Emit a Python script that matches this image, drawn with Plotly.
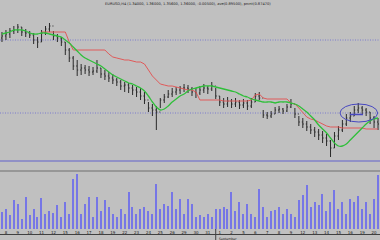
import plotly.graph_objects as go

# ---------------- data ----------------
high = [1.368,1.370,1.372,1.374,1.376,1.373,1.371,1.369,1.367,1.363,
        1.370,1.374,1.377,1.369,1.366,1.363,1.358,1.352,1.344,1.340,
        1.336,1.335,1.334,1.333,1.340,1.332,1.330,1.328,1.326,1.322,
        1.320,1.318,1.317,1.315,1.313,1.312,1.308,1.298,1.296,1.294,
        1.302,1.306,1.310,1.312,1.313,1.314,1.316,1.315,1.313,1.312,
        1.314,1.316,1.314,1.318,1.312,1.304,1.302,1.303,1.301,1.302,
        1.300,1.301,1.300,1.302,1.307,1.308,1.290,1.288,1.289,1.293,
        1.294,1.292,1.296,1.301,1.292,1.284,1.282,1.279,1.276,1.273,
        1.271,1.269,1.266,1.260,1.268,1.274,1.280,1.286,1.288,1.294,
        1.297,1.294,1.292,1.288,1.284,1.282]
low = [1.358,1.360,1.362,1.366,1.367,1.364,1.363,1.362,1.356,1.352,
       1.358,1.365,1.368,1.360,1.358,1.354,1.345,1.338,1.330,1.324,
       1.325,1.326,1.324,1.325,1.327,1.322,1.320,1.318,1.316,1.314,
       1.310,1.308,1.307,1.305,1.303,1.300,1.296,1.288,1.284,1.270,
       1.292,1.297,1.302,1.303,1.305,1.306,1.308,1.307,1.304,1.302,
       1.305,1.307,1.306,1.309,1.301,1.294,1.292,1.293,1.292,1.293,
       1.291,1.292,1.290,1.292,1.298,1.300,1.282,1.281,1.282,1.286,
       1.287,1.286,1.288,1.292,1.282,1.274,1.272,1.269,1.266,1.263,
       1.260,1.257,1.254,1.243,1.252,1.260,1.268,1.274,1.278,1.284,
       1.287,1.286,1.284,1.276,1.272,1.270]
close = [1.364,1.366,1.369,1.370,1.373,1.368,1.367,1.365,1.360,1.358,
         1.367,1.371,1.374,1.364,1.362,1.358,1.350,1.342,1.334,1.330,
         1.332,1.330,1.328,1.329,1.332,1.326,1.324,1.322,1.320,1.318,
         1.314,1.315,1.312,1.310,1.308,1.304,1.300,1.292,1.290,1.288,
         1.300,1.303,1.306,1.308,1.310,1.312,1.312,1.311,1.308,1.307,
         1.310,1.312,1.311,1.314,1.304,1.298,1.296,1.299,1.296,1.298,
         1.295,1.297,1.294,1.298,1.304,1.302,1.285,1.284,1.286,1.290,
         1.291,1.289,1.293,1.296,1.286,1.278,1.276,1.273,1.270,1.268,
         1.265,1.262,1.259,1.252,1.264,1.270,1.276,1.282,1.284,1.290,
         1.292,1.290,1.288,1.282,1.278,1.276]
first_open = 1.362

ma_green = [1.366,1.367,1.368,1.370,1.370,1.370,1.369,1.367,1.366,1.366,
            1.367,1.367,1.366,1.365,1.364,1.363,1.360,1.357,1.353,1.349,
            1.345,1.342,1.340,1.338,1.336,1.334,1.331,1.328,1.325,1.323,
            1.321,1.319,1.317,1.316,1.314,1.312,1.309,1.304,1.298,1.293,
            1.290,1.291,1.294,1.298,1.301,1.304,1.306,1.309,1.311,1.312,
            1.313,1.314,1.314,1.314,1.313,1.312,1.311,1.310,1.309,1.308,
            1.306,1.304,1.303,1.301,1.300,1.299,1.298,1.298,1.298,1.297,
            1.298,1.298,1.298,1.297,1.296,1.294,1.291,1.288,1.284,1.280,
            1.275,1.271,1.267,1.262,1.257,1.254,1.254,1.256,1.260,1.264,
            1.268,1.272,1.276,1.279,1.281,1.282]

stop_red = [None]*10 + [1.368]*7 + [1.358] + [1.350]*9 + [1.346] + \
           [1.343,1.342,1.341,1.340,1.340,1.339,1.338,1.338] + \
           [1.336,1.330,1.324,1.320] + \
           [1.316,1.315,1.314,1.314,1.313,1.312,1.311,1.310,1.310,1.308] + \
           [1.300]*6 + [1.299]*7 + [1.300,1.305,1.306,1.302] + [1.301]*6 + \
           [1.297,1.296,1.292,1.287,1.283,1.281,1.280,1.278,1.276,1.274,1.273] + \
           [1.273,1.273] + [1.272]*6 + [1.271]*4

volume = [1700,2000,1400,2900,2500,1000,3200,1400,2000,1200,
          3100,1500,1800,1600,2400,1200,2700,1500,5000,5500,
          1500,2500,3200,1200,3200,1800,2900,2200,1500,1200,
          2000,1500,3700,2200,1500,2000,2200,1800,1500,4500,
          2000,2500,2300,3700,2000,3000,1500,3000,2500,1200,
          1400,1200,1500,1200,2000,2000,2200,2000,3700,1800,
          2700,1500,2500,1500,1200,4000,2200,1200,1800,1900,
          2200,1500,2000,1500,1200,2900,3400,4400,2200,2700,
          2400,3500,1800,2700,3900,2000,2700,1500,3000,2700,
          3300,2000,2700,1500,3000,5400]

day_labels = ["8","9","10","11","12","15","16","17","18","19","22","23","24","25","26",
              "29","30","31","1","2","5","6","7","8","9","12","13","14","15","16","19","20"]
bars_per_day = 3
month_label = "September"
month_start_day = 18
levels_dotted = [1.360, 1.287]
level_solid = 1.239
title_text = "EURUSD,H4 (1.34000, 1.36000, 1.35600, 1.36000, -0.00500), ave(0.89500), prcnt(0.87470)"

# ---------------- figure ----------------
n = len(close)
x = list(range(n))
opens = [first_open] + close[:-1]

BG = "#c0c0c0"
fig = go.Figure()

fig.add_trace(go.Scatter(x=x, y=stop_red, mode="lines",
                         line=dict(color="#e05a5a", width=1), connectgaps=False,
                         xaxis="x", yaxis="y", hoverinfo="skip"))
fig.add_trace(go.Scatter(x=x, y=ma_green, mode="lines",
                         line=dict(color="#2fbf3a", width=1.3, shape="spline"),
                         xaxis="x", yaxis="y", hoverinfo="skip"))
fig.add_trace(go.Ohlc(x=x, open=opens, high=high, low=low, close=close,
                      increasing=dict(line=dict(color="#2a2a2a", width=1)),
                      decreasing=dict(line=dict(color="#2a2a2a", width=1)),
                      tickwidth=0.25, xaxis="x", yaxis="y"))
fig.add_trace(go.Bar(x=x, y=volume, width=0.32,
                     marker=dict(color="#7676e6", line=dict(width=0)),
                     xaxis="x2", yaxis="y2"))

xr = [-0.5, n - 0.5]
tickvals = [d * bars_per_day + 1 for d in range(len(day_labels))]

H = 240.0
def py(px):  # pixel from top -> paper y
    return (H - px) / H

shapes = []
for lv in levels_dotted:
    shapes.append(dict(type="line", xref="x domain", x0=0, x1=1, yref="y", y0=lv, y1=lv,
                       line=dict(color="#6a6ad0", width=0.8, dash="1px,1.5px"), layer="below"))
shapes.append(dict(type="line", xref="x domain", x0=0, x1=1, yref="y", y0=level_solid, y1=level_solid,
                   line=dict(color="#6060cc", width=1)))
# ellipse + highlight segment
shapes.append(dict(type="circle", xref="x", yref="y", x0=85.4, x1=94.9, y0=1.278, y1=1.296,
                   line=dict(color="#4848c0", width=1)))
shapes.append(dict(type="line", xref="x", yref="y", x0=87.9, x1=91.2, y0=1.2855, y1=1.2855,
                   line=dict(color="#4848c0", width=1.5)))
# volume panel top border
shapes.append(dict(type="line", xref="paper", x0=0, x1=1, yref="paper", y0=py(171), y1=py(171),
                   line=dict(color="#6e6e6e", width=1)))
# date strip bottom line
shapes.append(dict(type="line", xref="paper", x0=0, x1=1, yref="paper", y0=py(234.5), y1=py(234.5),
                   line=dict(color="#404040", width=1)))
# month separator
sep = month_start_day * bars_per_day
shapes.append(dict(type="line", xref="x2", x0=sep, x1=sep, yref="paper", y0=py(229), y1=0,
                   line=dict(color="#404040", width=1)))

annotations = [
    dict(text=title_text, xref="paper", yref="paper", x=0.271, y=1.0, xanchor="left", yanchor="top",
         showarrow=False, font=dict(size=3.6, color="#202020", family="DejaVu Sans")),
    dict(text=month_label, xref="x2", yref="paper", x=sep + 0.2, y=py(235), xanchor="left", yanchor="top",
         showarrow=False, font=dict(size=3.2, color="#202020", family="DejaVu Sans")),
]

fig.update_layout(
    width=380, height=240,
    margin=dict(l=0, r=0, t=0, b=0, pad=0),
    paper_bgcolor=BG, plot_bgcolor=BG,
    showlegend=False,
    xaxis=dict(domain=[0, 1], range=xr, anchor="y", showticklabels=False, showgrid=False,
               zeroline=False, rangeslider=dict(visible=False), showline=False, ticks=""),
    yaxis=dict(domain=[py(166), 1], range=[1.234, 1.400], showticklabels=False, showgrid=False,
               zeroline=False, ticks=""),
    xaxis2=dict(domain=[0, 1], range=xr, anchor="y2", showgrid=False, zeroline=False,
                tickmode="array", tickvals=tickvals, ticktext=day_labels,
                tickfont=dict(size=4, color="#202020", family="DejaVu Sans"),
                ticks="", showline=False),
    yaxis2=dict(domain=[py(229), py(171)], range=[0, 5800], showticklabels=False, showgrid=False,
                zeroline=False, ticks=""),
    shapes=shapes, annotations=annotations,
    bargap=0,
)

fig.write_html("out.html")
